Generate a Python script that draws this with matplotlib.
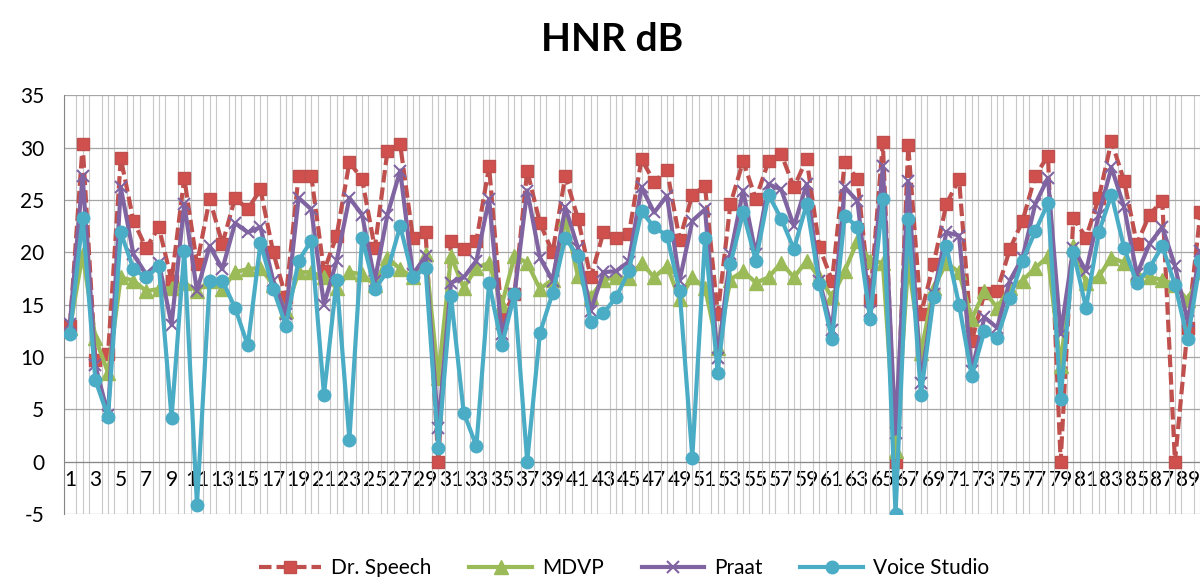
import matplotlib
matplotlib.use("Agg")
import matplotlib.pyplot as plt
import numpy as np

# HNR values (dB) per recording
categories = list(range(1, 91))

dr_speech = [
    13.0, 30.3, 9.7, 10.3, 29.0, 23.0, 20.4, 22.4, 17.3, 27.1,
    18.9, 25.1, 20.8, 25.2, 24.1, 26.0, 20.0, 15.7, 27.3, 27.3,
    18.2, 21.6, 28.6, 27.0, 20.4, 29.7, 30.3, 21.4, 21.9, 0.0,
    21.1, 20.3, 21.1, 28.2, 13.8, 16.0, 27.8, 22.8, 20.0, 27.3,
    23.2, 17.6, 21.9, 21.4, 21.7, 28.9, 26.7, 27.9, 21.2, 25.5,
    26.3, 14.1, 24.6, 28.7, 25.1, 28.7, 29.4, 26.2, 28.9, 20.5,
    17.3, 28.6, 27.0, 15.4, 30.5, 0.0, 30.2, 14.1, 18.9, 24.6,
    27.0, 11.5, 16.1, 16.3, 20.3, 23.0, 27.3, 29.2, 0.0, 23.3,
    21.4, 25.2, 30.6, 26.8, 20.8, 23.6, 24.9, 0.0, 12.8, 23.8,
]

mdvp = [
    12.8, 19.8, 11.8, 8.5, 17.6, 17.3, 16.3, 16.5, 16.6, 17.1,
    16.3, 17.3, 16.5, 18.1, 18.4, 18.5, 16.9, 14.4, 18.1, 18.1,
    17.6, 16.6, 18.1, 17.9, 16.9, 19.5, 18.4, 17.6, 19.8, 8.0,
    19.6, 16.6, 18.5, 19.0, 15.0, 19.6, 19.0, 16.5, 17.4, 23.2,
    17.7, 15.7, 17.4, 17.6, 17.5, 19.0, 17.6, 18.7, 15.5, 17.6,
    16.6, 10.9, 17.4, 18.2, 17.1, 17.6, 19.0, 17.6, 19.2, 17.6,
    15.7, 18.2, 21.1, 19.2, 19.0, 1.0, 19.0, 10.4, 16.6, 19.0,
    18.1, 13.6, 16.3, 14.7, 16.6, 17.3, 18.5, 19.6, 9.1, 20.6,
    17.1, 17.7, 19.5, 19.0, 17.9, 17.6, 17.4, 16.9, 15.4, 18.1,
]

praat = [
    13.2, 27.3, 9.2, 4.5, 26.2, 19.8, 17.9, 19.0, 13.1, 24.6,
    16.3, 20.6, 18.4, 22.8, 21.9, 22.4, 17.3, 14.1, 25.2, 24.1,
    15.0, 19.2, 25.2, 23.6, 17.3, 23.6, 27.8, 17.9, 19.6, 3.2,
    17.1, 17.6, 19.2, 25.1, 12.2, 16.0, 25.9, 19.5, 17.3, 24.3,
    20.4, 14.4, 18.1, 18.2, 19.1, 26.2, 23.8, 25.4, 17.3, 23.0,
    24.1, 9.9, 19.8, 25.9, 19.8, 26.5, 26.0, 22.5, 26.5, 17.3,
    12.6, 26.2, 24.9, 14.4, 28.2, 2.7, 26.8, 7.5, 16.0, 21.9,
    21.6, 8.7, 13.8, 12.8, 17.3, 19.5, 24.6, 27.1, 12.2, 20.4,
    18.2, 23.6, 28.1, 24.3, 17.9, 20.8, 22.4, 18.7, 13.4, 20.1,
]

voice_studio = [
    12.2, 23.3, 7.8, 4.3, 21.9, 18.4, 17.6, 18.7, 4.2, 20.1,
    -4.1, 17.3, 17.3, 14.7, 11.1, 20.9, 16.5, 13.0, 19.2, 21.1,
    6.4, 17.4, 2.1, 21.4, 16.5, 18.2, 22.5, 17.6, 18.5, 1.3,
    15.8, 4.7, 1.5, 17.1, 11.1, 16.0, 0.0, 12.3, 16.1, 21.4,
    19.6, 13.3, 14.2, 15.7, 18.2, 23.9, 22.4, 21.6, 16.3, 0.4,
    21.4, 8.5, 18.9, 23.8, 19.2, 25.5, 23.2, 20.3, 24.6, 17.0,
    11.7, 23.5, 22.4, 13.6, 25.1, -5.0, 23.2, 6.4, 15.7, 20.6,
    15.0, 8.2, 12.5, 11.8, 15.6, 19.2, 22.0, 24.7, 6.0, 20.0,
    14.7, 21.9, 25.5, 20.4, 17.1, 18.5, 20.6, 16.9, 11.7, 19.2,
]

y_ticks = list(range(-5, 40, 5))

plt.rcParams["font.family"] = ["Lato", "DejaVu Sans"]
plt.rcParams["axes.unicode_minus"] = False

fig = plt.figure(figsize=(12, 5.77), dpi=100)
# right edge runs slightly past the figure, as in the cropped original
ax = fig.add_axes([0.053, 0.109, 0.9526, 0.726])

x = np.array(categories)
ax.plot(x, dr_speech, color="#C0504D", lw=3, ls=(0, (3, 1.2)), marker="s",
        ms=9, mfc="#D0504D", mec="#C0504D", label="Dr. Speech", zorder=3)
ax.plot(x, mdvp, color="#9BBB59", lw=3, marker="^", ms=10,
        mfc="#9BBB59", mec="#9BBB59", label="MDVP", zorder=4)
ax.plot(x, praat, color="#8064A2", lw=3, marker="x", ms=9, mew=1.5,
        label="Praat", zorder=5)
ax.plot(x, voice_studio, color="#4BACC6", lw=3, marker="o", ms=9,
        mfc="#4BACC6", mec="#4BACC6", label="Voice Studio", zorder=6)

ax.set_xlim(0.5, len(categories) + 0.5)
ax.set_ylim(-5, 35)
ax.set_yticks(y_ticks)
ax.set_xticks(x[::2])
ax.set_xticklabels([str(c) for c in categories[::2]])
ax.set_xticks(np.arange(0.5, len(categories) + 1, 0.5), minor=True)

ax.grid(which="minor", axis="x", color="#C8C8C8", lw=0.8)
ax.grid(which="major", axis="y", color="#A6A6A6", lw=0.9)
ax.set_axisbelow(True)

ax.spines["bottom"].set_position(("data", 0))
ax.spines["bottom"].set_color("#868686")
ax.spines["left"].set_color("#868686")
ax.spines["top"].set_visible(False)
ax.spines["right"].set_visible(False)
ax.tick_params(axis="x", which="both", length=0, pad=6, labelsize=15)
ax.tick_params(axis="y", length=0, pad=14, labelsize=15)

ax.set_title("HNR dB", fontsize=28, fontweight="bold", pad=32, x=0.48)

fig.legend(loc="center", bbox_to_anchor=(0.52, 0.015), ncol=4, frameon=False,
           fontsize=15, handlelength=3, handletextpad=0.5, columnspacing=1.8)

fig.savefig("out.png", dpi=100)
